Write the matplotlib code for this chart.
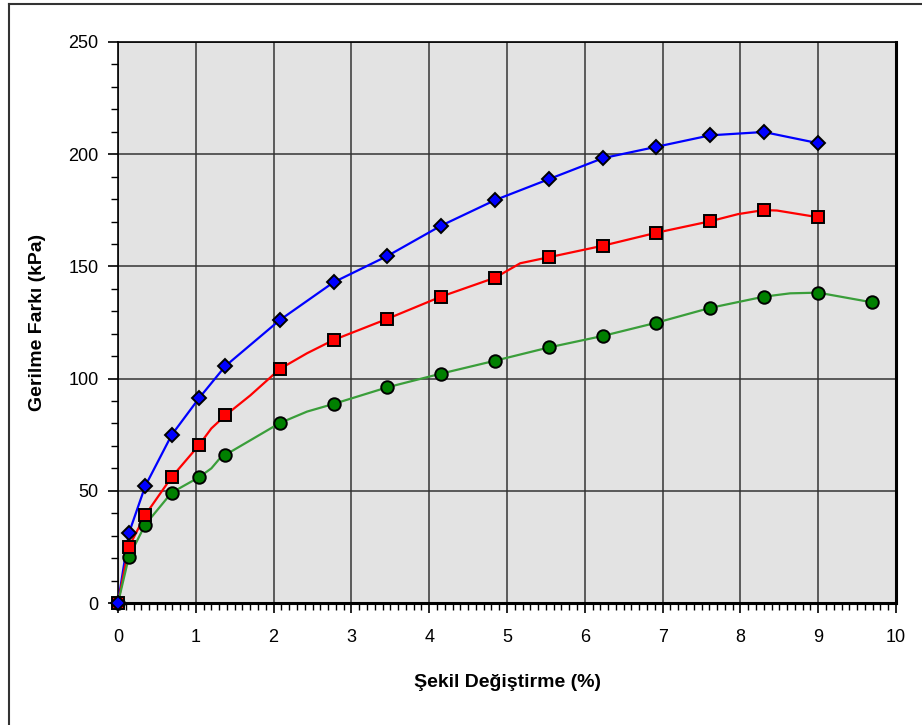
import numpy as np
import matplotlib
matplotlib.use("Agg")
import matplotlib.pyplot as plt
from matplotlib.lines import Line2D
from matplotlib.ticker import MultipleLocator

plt.rcParams['font.family'] = ['Liberation Sans', 'DejaVu Sans']

# readings at the marked points (strain %, deviator stress kPa)
strain = [0, 0.14, 0.35, 0.69, 1.04, 1.38, 2.08, 2.77, 3.46, 4.15,
          4.85, 5.54, 6.23, 6.92, 7.61, 8.30, 9.00]
strain_green = strain + [9.69]

blue = [0, 31.1, 52.1, 74.9, 91.2, 105.6, 126.1, 142.9, 154.6, 168.1,
        179.6, 188.9, 198.2, 203.3, 208.4, 209.9, 204.9]
red = [0, 25.0, 39.2, 56.1, 70.3, 83.6, 104.3, 117.2, 126.6, 136.5,
       145.0, 154.1, 159.2, 165.0, 170.1, 175.1, 171.9]
green = [0, 20.6, 34.9, 49.2, 56.0, 66.0, 80.2, 88.7, 96.1, 102.2,
         108.0, 113.9, 119.0, 124.9, 131.5, 136.5, 138.3, 134.0]

# extra readings between markers (the curves are drawn through all readings)
red_mid_x = [1.20, 1.70, 2.43, 5.17, 7.97, 8.47]
red_mid_y = [77.8, 92.5, 111.3, 151.4, 173.3, 174.9]
green_mid_x = [1.20, 1.31, 2.43, 8.64]
green_mid_y = [60.0, 64.5, 85.3, 138.0]


def merged(x, y, mx, my):
    xs = np.array(list(x) + list(mx))
    ys = np.array(list(y) + list(my))
    order = np.argsort(xs)
    return xs[order], ys[order]


fig = plt.figure(figsize=(9.22, 7.25), dpi=100)
ax = fig.add_axes([118/922, 1-603/725, (896-118)/922, (603-42)/725])
ax.set_facecolor('#e3e3e3')

rx, ry = merged(strain, red, red_mid_x, red_mid_y)
gx, gy = merged(strain_green, green, green_mid_x, green_mid_y)

ax.plot(strain, blue, color='#0000ff', lw=1.6, zorder=3)
ax.plot(rx, ry, color='#ff0000', lw=1.6, zorder=3)
ax.plot(gx, gy, color='#3a9e3a', lw=1.6, zorder=3)

ax.plot(strain_green, green, ls='none', marker='o', ms=9, mfc='#008000',
        mec='black', mew=1.4, zorder=4, clip_on=False)
ax.plot(strain, red, ls='none', marker='s', ms=8.5, mfc='#ff0000',
        mec='black', mew=1.4, zorder=5, clip_on=False)
ax.plot(strain, blue, ls='none', marker='D', ms=7.5, mfc='#0000ff',
        mec='black', mew=1.4, zorder=6, clip_on=False)

ax.set_xlim(0, 10)
ax.set_ylim(0, 250)
ax.xaxis.set_major_locator(MultipleLocator(1))
ax.xaxis.set_minor_locator(MultipleLocator(0.1))
ax.yaxis.set_major_locator(MultipleLocator(50))
ax.yaxis.set_minor_locator(MultipleLocator(10))

ax.grid(True, which='major', axis='x', color='#5a5a5a', lw=1.4, zorder=1)
ax.grid(True, which='major', axis='y', color='#333333', lw=1.1, zorder=1)
ax.set_axisbelow(True)

ax.tick_params(axis='both', which='major', direction='out', length=7,
               width=1.2, labelsize=13, colors='black', pad=7)
ax.tick_params(axis='both', which='minor', direction='out', length=5,
               width=1.0)
ax.tick_params(axis='x', which='major', pad=12)

for side in ('left', 'top'):
    ax.spines[side].set_linewidth(1.2)
for side in ('right', 'bottom'):
    ax.spines[side].set_linewidth(2.2)

ax.set_xlabel('Şekil Değiştirme (%)', fontsize=14, fontweight='bold',
              labelpad=20)
ax.set_ylabel('Gerilme Farkı (kPa)', fontsize=14, fontweight='bold',
              labelpad=16)

# outer chart frame
fig.add_artist(Line2D([8.5/922, 8.5/922], [0, 1-3.5/725],
                      transform=fig.transFigure, color='#333333', lw=1.5))
fig.add_artist(Line2D([8.5/922, 1], [1-3.5/725, 1-3.5/725],
                      transform=fig.transFigure, color='#333333', lw=1.5))

fig.savefig('out.png', dpi=100)
